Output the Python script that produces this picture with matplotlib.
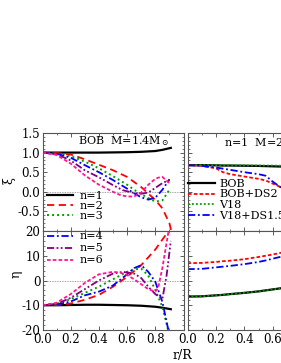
import matplotlib
matplotlib.use("Agg")
import matplotlib.pyplot as plt
from matplotlib.ticker import MultipleLocator, NullFormatter

plt.rcParams["font.family"] = ["DejaVu Serif"]
plt.rcParams["mathtext.fontset"] = "dejavuserif"

# ---- data: xi (top) and eta (bottom), BOB M=1.4 Msun, modes n=1..6 ----
r_n1 = [0.0, 0.1, 0.2, 0.3, 0.4, 0.5, 0.6, 0.7, 0.8, 0.85, 0.91]
xi_n1 = [1.0, 1.0, 1.0, 1.0, 1.0, 1.005, 1.01, 1.02, 1.04, 1.07, 1.12]
eta_n1 = [-10.0, -10.0, -9.9, -9.8, -9.8, -9.9, -10.0, -10.2, -10.6, -11.0, -11.6]

r_n2 = [0.0, 0.1, 0.2, 0.3, 0.4, 0.5, 0.6, 0.7, 0.8, 0.85, 0.9, 0.92]
xi_n2 = [1.0, 0.99, 0.95, 0.83, 0.69, 0.55, 0.38, 0.12, -0.21, -0.42, -0.8, -1.1]
eta_n2 = [-10.0, -9.9, -9.3, -7.8, -5.8, -2.5, 1.5, 6.2, 12.5, 16.5, 20.5, 23.0]

r_n3 = [0.0, 0.1, 0.2, 0.3, 0.4, 0.5, 0.6, 0.65, 0.7, 0.75, 0.8, 0.85, 0.9]
xi_n3 = [1.0, 0.98, 0.91, 0.77, 0.6, 0.4, 0.18, 0.05, -0.06, -0.16, -0.25, -0.22, 0.05]
eta_n3 = [-10.0, -9.5, -7.5, -5.0, -2.5, 0.5, 3.5, 4.5, 4.8, 2.0, -3.8, -10.6, -22.0]

r_n4 = [0.0, 0.1, 0.2, 0.3, 0.4, 0.5, 0.6, 0.65, 0.7, 0.75, 0.8, 0.85, 0.9]
xi_n4 = [1.0, 0.97, 0.87, 0.68, 0.5, 0.3, 0.08, -0.04, -0.14, -0.2, -0.15, 0.05, 0.32]
eta_n4 = [-10.0, -9.7, -8.5, -6.0, -4.5, -2.0, 2.5, 5.0, 6.2, 3.5, -0.5, -8.6, -22.0]

r_n5 = [0.0, 0.1, 0.2, 0.3, 0.4, 0.5, 0.57, 0.65, 0.7, 0.75, 0.8, 0.85, 0.88, 0.91]
xi_n5 = [1.0, 0.96, 0.8, 0.55, 0.37, 0.17, 0.04, -0.03, -0.05, -0.02, 0.1, 0.22, 0.27, 0.3]
eta_n5 = [-10.0, -9.5, -7.0, -3.5, 0.0, 2.8, 3.5, 2.8, 1.0, -2.5, -5.5, -7.5, 2.0, 16.0]

r_n6 = [0.0, 0.1, 0.2, 0.3, 0.4, 0.5, 0.55, 0.6, 0.65, 0.7, 0.75, 0.8, 0.82, 0.85, 0.9]
xi_n6 = [1.0, 0.94, 0.72, 0.42, 0.18, 0.0, -0.08, -0.12, -0.12, -0.02, 0.18, 0.33, 0.36, 0.38, 0.22]
eta_n6 = [-10.0, -9.0, -5.5, -1.0, 2.5, 3.5, 3.2, 2.2, 0.5, -1.5, -3.5, -4.5, -3.0, 5.0, 22.0]

# ---- data: n=1, M=2 Msun, different EOS ----
r_eos = [0.0, 0.1, 0.2, 0.25, 0.3, 0.4, 0.5, 0.55, 0.6, 0.65, 0.7]
xi_bob = [0.68, 0.68, 0.675, 0.67, 0.67, 0.665, 0.66, 0.655, 0.65, 0.645, 0.64]
xi_bob_ds2 = [0.68, 0.66, 0.6, 0.5, 0.45, 0.39, 0.33, 0.29, 0.21, 0.13, 0.05]
xi_v18 = [0.68, 0.68, 0.68, 0.68, 0.675, 0.675, 0.67, 0.67, 0.67, 0.665, 0.665]
xi_v18_ds = [0.68, 0.66, 0.62, 0.59, 0.56, 0.5, 0.45, 0.41, 0.26, 0.13, 0.03]
eta_bob = [-6.5, -6.4, -6.0, -5.8, -5.5, -5.0, -4.4, -4.0, -3.6, -3.2, -2.8]
eta_bob_ds2 = [7.0, 7.1, 7.5, 7.8, 8.0, 8.6, 9.5, 10.0, 10.5, 11.1, 11.6]
eta_v18 = [-6.5, -6.4, -6.0, -5.8, -5.5, -5.0, -4.4, -4.0, -3.6, -3.2, -2.8]
eta_v18_ds = [4.6, 4.7, 5.3, 5.6, 5.9, 6.6, 7.5, 8.1, 8.8, 9.5, 10.1]

modes = [
    ("n=1", r_n1, xi_n1, eta_n1, "black", "-", 1.6),
    ("n=2", r_n2, xi_n2, eta_n2, "#ff0000", (0, (4, 2.5)), 1.3),
    ("n=3", r_n3, xi_n3, eta_n3, "#00a000", (0, (1, 1.6)), 1.4),
    ("n=4", r_n4, xi_n4, eta_n4, "#0000ff", (0, (4, 1.5, 1, 1.5)), 1.3),
    ("n=5", r_n5, xi_n5, eta_n5, "#800080", (0, (4, 1.3, 1, 1.3, 1, 1.3)), 1.3),
    ("n=6", r_n6, xi_n6, eta_n6, "#ff1493", (0, (2, 1.2)), 1.3),
]
eos = [
    ("BOB", xi_bob, eta_bob, "black", "-", 1.6),
    ("BOB+DS2", xi_bob_ds2, eta_bob_ds2, "#ff0000", (0, (2, 1.2)), 1.3),
    ("V18", xi_v18, eta_v18, "#00a000", (0, (1, 1.2)), 1.3),
    ("V18+DS1.5", xi_v18_ds, eta_v18_ds, "#0000ff", (0, (4, 1.5, 1, 1.5)), 1.3),
]

fig = plt.figure(figsize=(2.81, 3.63), dpi=100)
W, H = 281.0, 363.0


def box(x0, y0, x1, y1):
    return [x0 / W, 1 - y1 / H, (x1 - x0) / W, (y1 - y0) / H]


ax_tl = fig.add_axes(box(42.5, 133, 183.5, 231))
ax_bl = fig.add_axes(box(42.5, 231, 183.5, 330))
ax_tr = fig.add_axes(box(187.5, 133, 329.5, 231))
ax_br = fig.add_axes(box(187.5, 231, 329.5, 330))

for ax in (ax_tl, ax_bl, ax_tr, ax_br):
    ax.set_xlim(0, 1.0)
    ax.xaxis.set_major_locator(MultipleLocator(0.2))
    ax.xaxis.set_minor_locator(MultipleLocator(0.1))
    ax.tick_params(which="both", direction="in", top=True, right=True,
                   labelsize=8.5, pad=1.5, color="#444444")
    ax.tick_params(axis="x", pad=2.5)
    ax.tick_params(which="major", length=3, width=0.6)
    ax.tick_params(which="minor", length=1.6, width=0.5)
    for s in ax.spines.values():
        s.set_color("#555555")
        s.set_linewidth(0.8)

for ax in (ax_tl, ax_tr):
    ax.set_ylim(-1.0, 1.5)
    ax.yaxis.set_major_locator(MultipleLocator(0.5))
    ax.yaxis.set_minor_locator(MultipleLocator(0.1))
    ax.xaxis.set_major_formatter(NullFormatter())
for ax in (ax_bl, ax_br):
    ax.set_ylim(-20, 20)
    ax.yaxis.set_major_locator(MultipleLocator(10))
    ax.yaxis.set_minor_locator(MultipleLocator(2))
for ax in (ax_tr, ax_br):
    ax.yaxis.set_major_formatter(NullFormatter())

ax_tl.yaxis.set_major_formatter(plt.FuncFormatter(lambda v, p: "" if v < -0.9 else f"{v:.1f}"))
ax_bl.yaxis.set_major_formatter(plt.FuncFormatter(lambda v, p: f"{v:.0f}"))
ax_bl.xaxis.set_major_formatter(plt.FuncFormatter(lambda v, p: "" if v > 0.9 else f"{v:.1f}"))
ax_br.xaxis.set_major_formatter(plt.FuncFormatter(lambda v, p: f"{v:.1f}"))

for ax in (ax_tl, ax_bl):
    ax.axhline(0, color="#888888", lw=0.6, ls=(0, (1, 1)), zorder=0)

lines_top, lines_bot = [], []
for i, (lab, r, xi, eta, c, ls, lw) in enumerate(modes):
    l1, = ax_tl.plot(r, xi, color=c, ls=ls, lw=lw, label=lab)
    l2, = ax_bl.plot(r, eta, color=c, ls=ls, lw=lw, label=lab)
    (lines_top if i < 3 else lines_bot).append(l1 if i < 3 else l2)

for lab, xi, eta, c, ls, lw in eos:
    ax_tr.plot(r_eos, xi, color=c, ls=ls, lw=lw, label=lab)
    ax_br.plot(r_eos, eta, color=c, ls=ls, lw=lw)

leg_kw = dict(frameon=False, fontsize=8, handlelength=2.4, handletextpad=0.6,
              borderpad=0, borderaxespad=0, labelspacing=0.0, loc="upper left")
ax_tl.legend(handles=lines_top, bbox_to_anchor=(0.03, 0.41), **leg_kw)
leg_kw["labelspacing"] = 0.18
ax_bl.legend(handles=lines_bot, bbox_to_anchor=(0.03, 0.995), **leg_kw)
leg_kw["labelspacing"] = 0.08
leg_kw["handletextpad"] = 0.4
ax_tr.legend(bbox_to_anchor=(0.005, 0.535), **leg_kw)

ax_tl.text(0.25, 0.92, "BOB  M=1.4M$_\\odot$", transform=ax_tl.transAxes,
           fontsize=8, va="center", ha="left")
ax_tr.text(0.26, 0.9, "n=1  M=2M$_\\odot$", transform=ax_tr.transAxes,
           fontsize=8, va="center", ha="left")

fig.text(9 / W, 1 - 181 / H, "\u03be", rotation=90, fontsize=9, ha="center", va="center")
fig.text(16 / W, 1 - 274 / H, "\u03b7", rotation=90, fontsize=9, ha="center", va="center")
fig.text(182 / W, 1 - 355 / H, "r/R", fontsize=9, ha="center", va="center")

fig.savefig("out.png", dpi=100)
